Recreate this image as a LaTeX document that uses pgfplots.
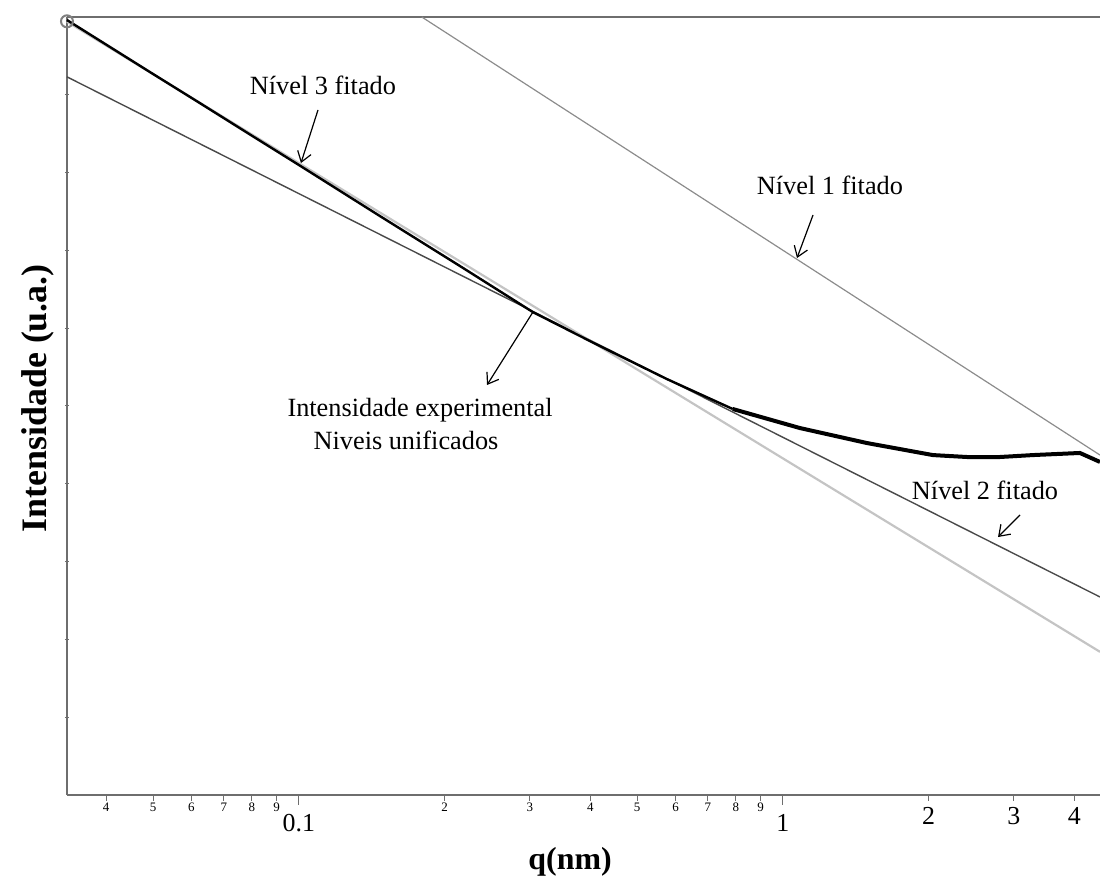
\documentclass[border=0pt]{standalone}
\usepackage{pgfplots}
\pgfplotsset{compat=1.18}
\usetikzlibrary{arrows.meta}
\usepackage{fontspec}
\setmainfont{Liberation Serif}

\definecolor{axgray}{HTML}{6E6E6E}
\definecolor{lvlone}{HTML}{8C8C8C}
\definecolor{lvltwo}{HTML}{4A4A4A}
\definecolor{lvlthree}{HTML}{C4C4C4}

\newcommand{\bigtick}[1]{\raisebox{-6.5bp}{\fontsize{13}{15}\selectfont #1}}

\begin{document}
\begin{tikzpicture}[ann/.style={font=\fontsize{13.2}{15}\selectfont},
    arr/.style={-{Straight Barb[length=5bp,width=7bp]}, line width=0.6bp}]
\begin{axis}[
    scale only axis,
    width=516.5bp,
    height=389bp,
    xmode=log, ymode=log,
    xmin=0.0332, xmax=4.52,
    ymin=1, ymax=1e10,
    axis x line*=box,
    axis y line*=left,
    axis line style={axgray, line width=0.8bp},
    xtick pos=bottom, ytick pos=left,
    tick align=outside,
    tick style={axgray, line width=0.5bp},
    major tick length=5bp,
    minor tick num=0,
    xtick={0.1,1},
    xticklabels={0.1,1},
    xticklabel style={font=\fontsize{13}{15}\selectfont, anchor=base, inner sep=0pt, yshift=-13.5bp},
    extra x ticks={0.04,0.05,0.06,0.07,0.08,0.09,0.2,0.3,0.4,0.5,0.6,0.7,0.8,0.9,2,3,4},
    extra x tick labels={4,5,6,7,8,9,2,3,4,5,6,7,8,9,\bigtick{2},\bigtick{3},\bigtick{4}},
    extra x tick style={major tick length=3bp,
        xticklabel style={font=\fontsize{6.5}{7}\selectfont, yshift=8bp}},
    ytick=\empty,
    extra y ticks={10,100,1e3,1e4,1e5,1e6,1e7,1e8,1e9},
    extra y tick labels={},
    extra y tick style={major tick length=2bp, tick align=center},
    xlabel={\textbf{q(nm)}},
    xlabel style={font=\fontsize{16}{18}\selectfont, at={(rel axis cs:0.487,0)}, anchor=center, yshift=-33.5bp},
    ylabel={\textbf{Intensidade (u.a.)}},
    ylabel style={font=\fontsize{18}{20}\selectfont, at={(rel axis cs:0,0.51)}, anchor=center, yshift=14.5bp},
    clip=false,
]

% Nivel 1 fitado
\addplot[lvlone, line width=0.6bp] coordinates {(0.1795,1e10) (4.52,2.34e4)};
% Nivel 2 fitado
\addplot[lvltwo, line width=0.7bp] coordinates {(0.0332,1.70e9) (4.52,351)};
% Nivel 3 fitado
\addplot[lvlthree, line width=1.1bp] coordinates {(0.0332,8.71e9) (4.52,69.2)};

% intensidade experimental
\addplot[black, line width=1.2bp] coordinates {
    (0.0332,9.14e9) (0.0388,4.98e9) (0.0492,1.97e9) (0.0624,7.85e8)
    (0.0792,3.10e8) (0.1005,1.23e8) (0.147,2.77e7) (0.2151,6.31e6)
    (0.3045,1.61e6) (0.4185,5.90e5) (0.5759,2.22e5) (0.788,9.15e4)
};
\addplot[black, line width=2bp] coordinates {
    (0.788,9.15e4) (1.084,5.21e4) (1.492,3.34e4) (2.041,2.34e4)
    (2.400,2.21e4) (2.808,2.21e4) (3.285,2.34e4) (4.108,2.49e4)
    (4.519,1.91e4)
};
\addplot[only marks, mark=o, mark size=3bp, gray, line width=1bp] coordinates {(0.0332,8.8e9)};

% anotacoes
\node[ann] at (rel axis cs:0.2478,0.9126) {Nível 3 fitado};
\draw[arr] (rel axis cs:0.243,0.8805) -- (rel axis cs:0.2265,0.8123);
\node[ann] at (rel axis cs:0.7386,0.7841) {Nível 1 fitado};
\draw[arr] (rel axis cs:0.7222,0.7455) -- (rel axis cs:0.7067,0.6902);
\node[ann] at (rel axis cs:0.3418,0.4949) {Intensidade experimental};
\node[ann] at (rel axis cs:0.3282,0.4563) {Niveis unificados};
\draw[arr] (rel axis cs:0.4511,0.6208) -- (rel axis cs:0.4066,0.527);
\node[ann] at (rel axis cs:0.8887,0.392) {Nível 2 fitado};
\draw[arr] (rel axis cs:0.9226,0.3599) -- (rel axis cs:0.9013,0.3316);
\end{axis}
\pgfresetboundingbox
\useasboundingbox (-33.5bp,-45bp) rectangle (516.5bp,397.5bp);
\end{tikzpicture}
\end{document}
